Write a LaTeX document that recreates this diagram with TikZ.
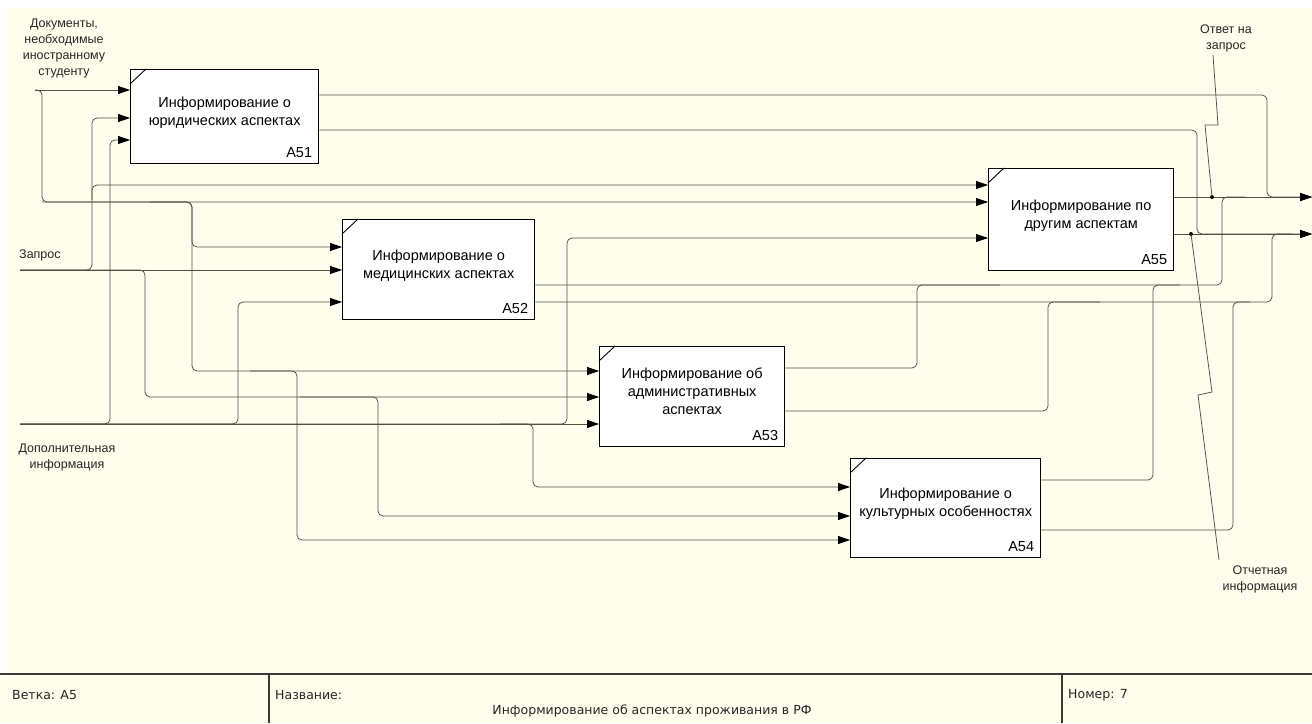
\documentclass[tikz,border=0pt]{standalone}
\usepackage{fontspec}
\setmainfont{Liberation Sans}
\newfontfamily\footfont{DejaVu Sans}
\usetikzlibrary{arrows.meta,calc}
\definecolor{cream}{RGB}{255,254,236}
\definecolor{linec}{RGB}{80,80,70}
\definecolor{framec}{RGB}{60,60,52}
\begin{document}
\begin{tikzpicture}[x=1pt,y=-1pt,
  conn/.style={draw=linec, line width=0.75pt, rounded corners=5pt},
  arr/.style={-{Triangle[length=12pt,width=8pt,color=black]}},
  box/.style={draw=black, fill=white, line width=1.3pt, anchor=north west, inner sep=0pt},
  boxtext/.style={align=center, inner sep=0pt, font=\fontsize{14.5}{18}\selectfont},
  idtext/.style={anchor=south east, inner sep=0pt, font=\fontsize{14.5}{18}\selectfont},
  lbl/.style={align=center, inner sep=0pt, text=black!85, font=\fontsize{12.5}{16}\selectfont},
  foot/.style={anchor=west, inner sep=0pt, text=black!85, font=\footfont\fontsize{12.5}{15}\selectfont},
  dot/.style={circle, fill=black, inner sep=0pt, minimum size=4pt},
  tick/.style={draw=black, line width=0.9pt}]
\useasboundingbox (0,0) rectangle (1312,723);
\fill[white] (0,0) rectangle (1312,723);
\fill[cream] (7,8) rectangle (1312,723);
\fill[cream] (0,674) rectangle (7,723);

% boxes
\node[box, minimum width=188pt, minimum height=94pt] (A51) at (130,69) {};
\node[box, minimum width=192pt, minimum height=100pt] (A52) at (342,219) {};
\node[box, minimum width=185pt, minimum height=100pt] (A53) at (599,346) {};
\node[box, minimum width=190pt, minimum height=99pt] (A54) at (850,458) {};
\node[box, minimum width=185pt, minimum height=102pt] (A55) at (988,168) {};

\foreach \b in {A51,A52,A53,A54,A55}{
  \draw[tick] ($(\b.north west)+(0,15)$) -- ($(\b.north west)+(16,0)$);
}

\node[boxtext] (A51t) at ($(A51.center)+(0,-4)$) {Информирование о\\юридических аспектах};
\node[boxtext] (A52t) at ($(A52.center)+(0,-4)$) {Информирование о\\медицинских аспектах};
\node[boxtext] (A53t) at ($(A53.center)+(0,-5)$) {Информирование об\\административных\\аспектах};
\node[boxtext] (A54t) at ($(A54.center)+(0,-4)$) {Информирование о\\культурных особенностях};
\node[boxtext] (A55t) at ($(A55.center)+(0,-4)$) {Информирование по\\другим аспектам};

\node[idtext] (A51id) at ($(A51.south east)+(-7,-6)$) {A51};
\node[idtext] (A52id) at ($(A52.south east)+(-7,-6)$) {A52};
\node[idtext] (A53id) at ($(A53.south east)+(-7,-6)$) {A53};
\node[idtext] (A54id) at ($(A54.south east)+(-7,-6)$) {A54};
\node[idtext] (A55id) at ($(A55.south east)+(-7,-6)$) {A55};

% free ends
\coordinate (inDoc) at (35,90);
\coordinate (inQ) at (20,270);
\coordinate (inP) at (20,424);
\coordinate (outA) at (1312,197);
\coordinate (outB) at (1312,234);

% labels
\node[lbl] (lDoc) at (64,48) {Документы,\\необходимые\\иностранному\\студенту};
\node[lbl, anchor=west] (lQ) at (19,255) {Запрос};
\node[lbl] (lP) at (67,457) {Дополнительная\\информация};
\node[lbl] (lAns) at (1226,38) {Ответ на\\запрос};
\node[lbl] (lRep) at (1260,579) {Отчетная\\информация};

% inputs: documents
\draw[conn,arr] (inDoc) -- (A51.west |- inDoc);
\draw[conn,arr] (inDoc) -| (42,202) -- (A55.west |- 0,202);
\draw[conn,arr] (42,202) -| (192,247) -- (A52.west |- 0,247);
\draw[conn,arr] (150,202) -| (192,371) -- (A53.west |- 0,371);
\draw[conn,arr] (250,371) -| (297,540) -- (A54.west |- 0,540);

% inputs: request
\draw[conn,arr] (inQ) -- (A52.west |- inQ);
\draw[conn,arr] (inQ) -| (92,185) -- (A55.west |- 0,185);
\draw[conn,arr] (92,200) |- (A51.west |- 0,118);
\draw[conn,arr] (inQ) -| (145,397) -- (A53.west |- 0,397);
\draw[conn,arr] (300,397) -| (378,516) -- (A54.west |- 0,516);

% inputs: additional info
\draw[conn,arr] (inP) -- (A53.west |- inP);
\draw[conn,arr] (inP) -| (110,140) -- (A51.west |- 0,140);
\draw[conn,arr] (inP) -| (238,302) -- (A52.west |- 0,302);
\draw[conn,arr] (inP) -| (567,238) -- (A55.west |- 0,238);
\draw[conn,arr] (500,424) -| (533,487) -- (A54.west |- 0,487);

% outputs
\draw[conn,arr] (A51.east |- 0,95) -| (1267,197) -- (outA);
\draw[conn,arr] (A51.east |- 0,130) -| (1197,234) -- (outB);
\draw[conn,arr] (A55.east |- outA) -- (outA);
\draw[conn,arr] (A55.east |- outB) -- (outB);
\draw[conn] (A52.east |- 0,285) -| (1222,197) -- (1245,197);
\draw[conn] (A52.east |- 0,302) -| (1272,234) -- (1292,234);
\draw[conn] (A53.east |- 0,368) -| (917,285) -- (1000,285);
\draw[conn] (A53.east |- 0,411) -| (1048,302) -- (1100,302);
\draw[conn] (A54.east |- 0,480) -| (1153,285) -- (1180,285);
\draw[conn] (A54.east |- 0,530) -| (1233,302) -- (1250,302);

% junction dots and squiggles
\node[dot] (d1) at (1212,197) {};
\node[dot] (d2) at (1191,234) {};
\draw[draw=linec, line width=0.75pt] (1213,55) -- (1218,125) -- (1205,125) -- (d1.center);
\draw[draw=linec, line width=0.75pt] (d2.center) -- (1212,392) -- (1198,395) -- (1219,560);

% footer
\draw[draw=framec, line width=1.2pt] (0,674) -- (1312,674);
\draw[draw=framec, line width=1.2pt] (269,674) -- (269,723);
\draw[draw=framec, line width=1.2pt] (1062,674) -- (1062,723);
\node[foot] (fB) at (12,695) {Ветка: A5};
\node[foot] (fN) at (275,695) {Название:};
\node[foot, anchor=center] (fT) at (652,711) {Информирование об аспектах проживания в РФ};
\node[foot] (fNo) at (1068,695) {Номер: 7};
\end{tikzpicture}
\end{document}
